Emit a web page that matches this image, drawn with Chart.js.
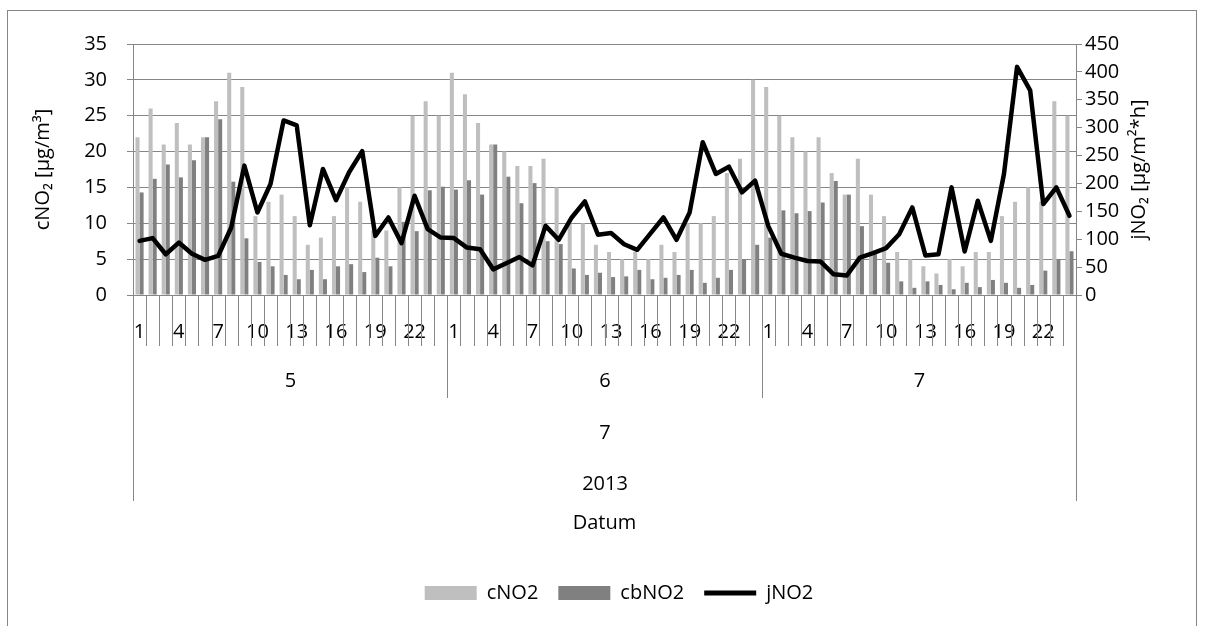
<!DOCTYPE html>
<html>
<head>
<meta charset="utf-8">
<script src="https://cdn.jsdelivr.net/npm/chart.js@4"></script>
<style>
  html, body { margin: 0; padding: 0; background: #fff; }
  #wrap { width: 1207px; height: 626px; position: relative; }
</style>
</head>
<body>
<div id="wrap"><canvas id="no2Chart"></canvas></div>
<script>
// hours of each day, days, month, year
const hours = [1, 2, 3, 4, 5, 6, 7, 8, 9, 10, 11, 12, 13, 14, 15, 16, 17, 18, 19, 20, 21, 22, 23, 24];
const days = ["5", "6", "7"];
const month = "7";
const year = "2013";

const cNO2 = [
  22, 26, 21, 24, 21, 22, 27, 31, 29, 11, 13, 14, 11, 7, 8, 11, 15, 13, 9, 9, 15, 25, 27, 25,
  31, 28, 24, 21, 20, 18, 18, 19, 15, 10, 10, 7, 6, 5, 6, 5, 7, 6, 10, 10, 11, 17, 19, 30,
  29, 25, 22, 20, 22, 17, 14, 19, 14, 11, 6, 5, 4, 3, 5, 4, 6, 6, 11, 13, 15, 13, 27, 25
];
const cbNO2 = [
  14.3, 16.2, 18.2, 16.4, 18.8, 22, 24.5, 15.8, 7.9, 4.6, 4.0, 2.8, 2.2, 3.5, 2.2, 4.0, 4.3, 3.2, 5.2, 4.0, 10.2, 8.9, 14.6, 15.1,
  14.7, 16.0, 14.0, 21, 16.5, 12.8, 15.6, 7.5, 7.1, 3.7, 2.8, 3.1, 2.5, 2.6, 3.5, 2.2, 2.4, 2.8, 3.5, 1.7, 2.4, 3.5, 5.0, 7.0,
  8.0, 11.8, 11.4, 11.7, 12.9, 15.9, 14, 9.6, 5.7, 4.5, 1.9, 1.0, 1.9, 1.4, 0.8, 1.7, 1.1, 2.1, 1.7, 1.0, 1.4, 3.4, 5.0, 6.1
];
const jNO2 = [
  97, 102, 73, 94, 74, 63, 70, 121, 232, 148, 199, 313, 304, 125, 226, 170, 220, 258, 106, 139, 93, 178, 118, 103,
  102, 85, 82, 46, 57, 68, 53, 124, 99, 139, 168, 108, 111, 91, 81, 110, 139, 99, 148, 274, 217, 230, 184, 205,
  124, 74, 67, 61, 60, 37, 35, 67, 75, 84, 109, 157, 71, 73, 193, 78, 169, 97, 217, 409, 367, 163, 193, 142
];

const labels = days.flatMap(() => hours.map(String));

const GRID = "#868686";
Chart.defaults.font.family = "'Open Sans', sans-serif";
Chart.defaults.font.size = 20;
Chart.defaults.color = "#000";

// border round the whole chart, the multi level category axis, right axis title
const frame = {
  id: "frame",
  beforeDraw(chart) {
    const ctx = chart.ctx;
    ctx.save();
    ctx.fillStyle = "#fff";
    ctx.fillRect(0, 0, chart.width, chart.height);
    ctx.strokeStyle = GRID;
    ctx.lineWidth = 1;
    ctx.strokeRect(7.5, 10.5, 1189, 700);
    ctx.restore();
  },
  afterDraw(chart) {
    const { ctx, chartArea } = chart;
    const x = chart.scales.x;
    const y0 = chartArea.bottom;
    const step = x.getPixelForValue(1) - x.getPixelForValue(0);
    const edge = i => Math.round(x.getPixelForValue(i) - step / 2) + 0.5;
    const n = labels.length;

    ctx.save();
    ctx.strokeStyle = GRID;
    ctx.lineWidth = 1;
    ctx.beginPath();
    for (let i = 0; i <= n; i++) {
      ctx.moveTo(edge(i), y0);
      ctx.lineTo(edge(i), y0 + 51);
    }
    for (let d = 0; d <= days.length; d++) {
      const px = edge(d * hours.length);
      if (d === 0 || d === days.length) {
        ctx.moveTo(px, y0);
        ctx.lineTo(px, y0 + 206);
      } else {
        ctx.moveTo(px, y0 + 51);
        ctx.lineTo(px, y0 + 103);
      }
    }
    ctx.stroke();

    ctx.fillStyle = "#000";
    ctx.font = "20px 'Open Sans', sans-serif";
    ctx.textAlign = "center";
    ctx.textBaseline = "middle";
    days.forEach((d, k) => {
      const mid = (edge(k * hours.length) + edge((k + 1) * hours.length)) / 2;
      ctx.fillText(d, mid, y0 + 86);
    });
    const all = (edge(0) + edge(n)) / 2;
    ctx.fillText(month, all, y0 + 138);
    ctx.fillText(year, all, y0 + 189);

    // secondary axis title, read bottom to top
    ctx.translate(1139, (chartArea.top + chartArea.bottom) / 2);
    ctx.rotate(-Math.PI / 2);
    ctx.fillText("jNO\u2082 [\u00b5g/m\u00b2*h]", 0, 0);
    ctx.restore();
  }
};

new Chart(document.getElementById("no2Chart"), {
  type: "bar",
  data: {
    labels,
    datasets: [
      {
        label: "cNO2",
        data: cNO2,
        backgroundColor: "#bfbfbf",
        yAxisID: "y",
        order: 1
      },
      {
        label: "cbNO2",
        data: cbNO2,
        backgroundColor: "#808080",
        yAxisID: "y",
        order: 1
      },
      {
        type: "line",
        label: "jNO2",
        data: jNO2,
        borderColor: "#000",
        backgroundColor: "#000",
        borderWidth: 4.5,
        pointRadius: 0,
        tension: 0,
        borderJoinStyle: "round",
        borderCapStyle: "round",
        yAxisID: "y1",
        order: 0
      }
    ]
  },
  options: {
    responsive: true,
    maintainAspectRatio: false,
    animation: false,
    layout: { padding: { left: 31, right: 0, top: 44, bottom: 13 } },
    datasets: { bar: { categoryPercentage: 0.62, barPercentage: 1.0 } },
    plugins: {
      tooltip: { enabled: false },
      legend: {
        position: "bottom",
        labels: {
          usePointStyle: true,
          pointStyleWidth: 52,
          boxHeight: 14,
          padding: 20,
          color: "#000",
          sort: (a, b) => a.datasetIndex - b.datasetIndex,
          generateLabels: chart => chart.data.datasets.map((ds, i) => ({
            text: ds.label,
            datasetIndex: i,
            fillStyle: ds.type === "line" ? "#000" : ds.backgroundColor,
            strokeStyle: "#000",
            lineWidth: ds.type === "line" ? 5 : 0,
            pointStyle: ds.type === "line" ? "line" : "rect",
            fontColor: "#000",
            hidden: false
          }))
        }
      }
    },
    scales: {
      x: {
        grid: { display: false },
        border: { display: true, color: GRID },
        ticks: {
          autoSkip: false,
          maxRotation: 0,
          padding: 17,
          callback: function (v, i) {
            const h = hours[i % hours.length];
            return (h - 1) % 3 === 0 ? String(h) : "";
          }
        },
        title: { display: true, text: "Datum", padding: { top: 0, bottom: 28 } },
        afterFit: s => { s.height = 268; }
      },
      y: {
        position: "left",
        min: 0,
        max: 35,
        ticks: { stepSize: 5, padding: 20 },
        grid: { color: GRID, tickColor: GRID, tickLength: 6 },
        border: { color: GRID },
        title: { display: true, text: "cNO\u2082 [\u00b5g/m\u00b3]", padding: 0 },
        afterFit: s => { s.width = 102; }
      },
      y1: {
        position: "right",
        min: 0,
        max: 450,
        ticks: { stepSize: 50, padding: 3 },
        grid: { drawOnChartArea: false, color: GRID, tickColor: GRID, tickLength: 6 },
        border: { color: GRID },
        afterFit: s => { s.width = 131; }
      }
    }
  },
  plugins: [frame]
});
</script>
</body>
</html>
